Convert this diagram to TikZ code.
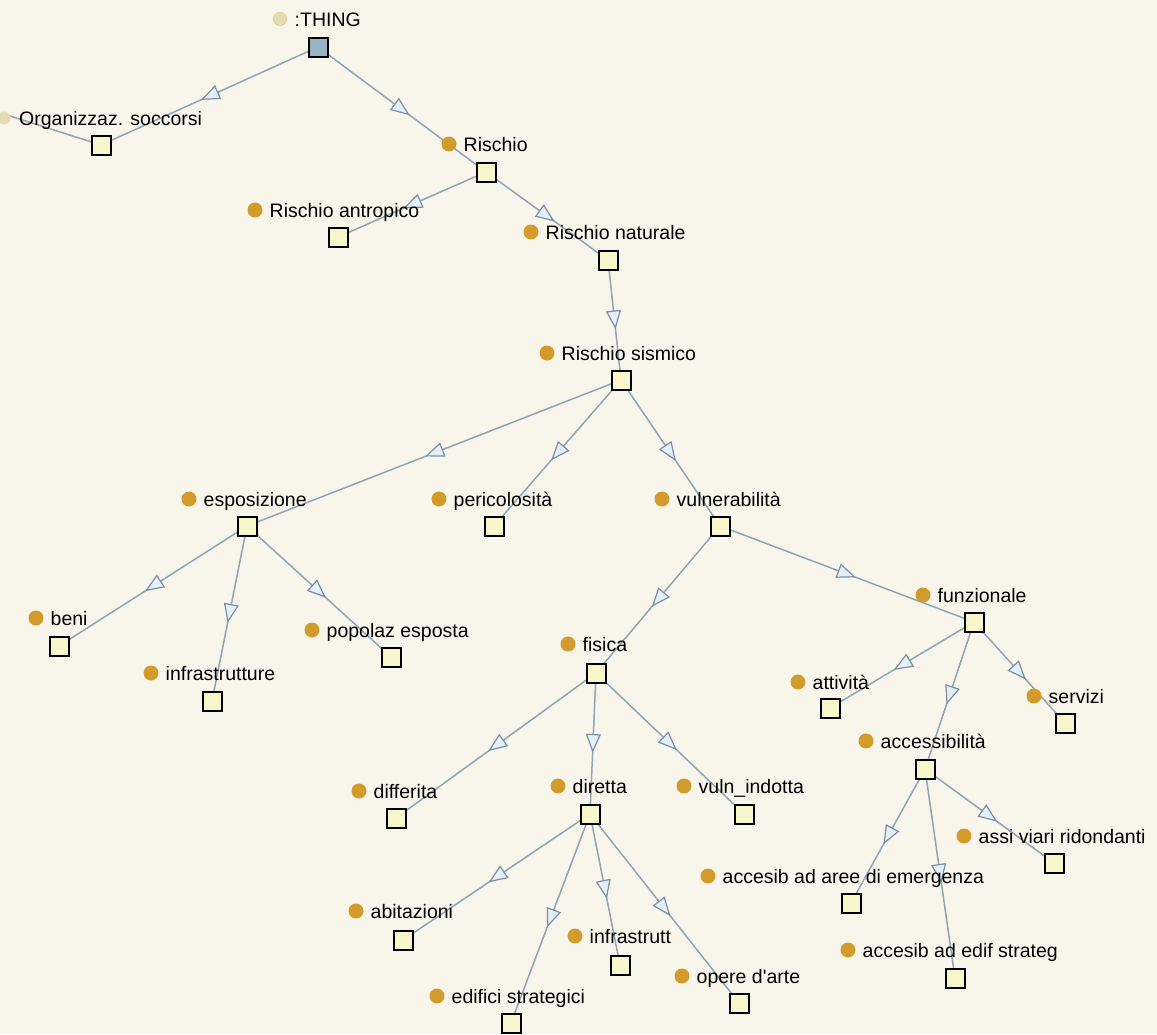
\documentclass[tikz,border=0pt]{standalone}
\usepackage{fontspec}
\setmainfont{Liberation Sans}
\usetikzlibrary{arrows.meta,decorations.markings}
\pgfdeclarelayer{background}
\pgfsetlayers{background,main}
\definecolor{bgc}{HTML}{F8F5EA}
\definecolor{boxc}{HTML}{F8F7CC}
\definecolor{thingc}{HTML}{98B2C6}
\definecolor{dotc}{HTML}{D39B2C}
\definecolor{paledot}{HTML}{E6DCB4}
\definecolor{edgec}{HTML}{90A4B8}
\definecolor{arrowc}{HTML}{7890A8}
\definecolor{arrf}{HTML}{E6EFF8}
\tikzset{
  cbox/.style={draw=black, fill=boxc, line width=2pt, minimum size=19pt, inner sep=0pt},
  dot/.style={circle, fill=dotc, minimum size=15pt, inner sep=0pt},
  lbl/.style={inner sep=0pt, text=black, font=\fontsize{19.5}{22}\selectfont},
  isa/.style={draw=edgec, line width=1.5pt, postaction={decorate},
    decoration={markings, mark=at position 0.5 with {\arrow[xshift=9.5pt,draw=arrowc,line width=1.2pt]{Triangle[length=19pt,width=15pt,fill=arrf]}}}},
  plainedge/.style={draw=edgec, line width=1.5pt}
}
\newcommand\mkclass[6]{%
  \node[dot] (#1-d) at (#4,#5) {};
  \node[lbl, anchor=base west, xshift=14.5pt, yshift=-7.5pt] (#1-t) at (#4,#5) {#6};
  \node[cbox] (#1) at (#2,#3) {};
}
\begin{document}
\begin{tikzpicture}[x=1pt,y=-1pt]
\useasboundingbox (0,0) rectangle (1157,1034);
\clip (0,0) rectangle (1157,1034);
% top node
\node[circle, fill=paledot, draw=paledot!80!dotc, line width=1pt, minimum size=13pt, inner sep=0pt] (thing-d) at (280,19) {};
\node[lbl, anchor=base west, xshift=14.5pt, yshift=-7.5pt] (thing-t) at (280,19) {:THING};
\node[cbox, fill=thingc] (thing) at (318,47) {};
% Organizzaz. soccorsi (dot partly outside)
\node[circle, fill=paledot, minimum size=13pt, inner sep=0pt] (org-d) at (4,118) {};
\node[lbl, anchor=base west, xshift=15pt, yshift=-7.5pt] (org-t) at (4,118) {Organizzaz. soccorsi};
\node[cbox] (org) at (101,145) {};
\coordinate (offl) at (10,116);
\mkclass{ris}{486}{172}{449}{144}{Rischio}
\mkclass{rant}{338}{237}{255}{210}{Rischio antropico}
\mkclass{rnat}{608}{260}{531}{232}{Rischio naturale}
\mkclass{rsis}{621}{380}{547}{353}{Rischio sismico}
\mkclass{espo}{247}{526}{189}{499}{esposizione}
\mkclass{peri}{494}{526}{439}{499}{pericolosità}
\mkclass{vuln}{720}{526}{662}{499}{vulnerabilità}
\mkclass{beni}{59}{646}{36}{618}{beni}
\mkclass{infra}{212}{701}{151}{673}{infrastrutture}
\mkclass{popo}{391}{657}{312}{630}{popolaz esposta}
\mkclass{fis}{596}{673}{568}{644}{fisica}
\mkclass{funz}{974}{622}{923}{595}{funzionale}
\mkclass{att}{830}{708}{798}{682}{attività}
\mkclass{serv}{1065}{723}{1034}{696}{servizi}
\mkclass{acc}{925}{769}{866}{741}{accessibilità}
\mkclass{diff}{396}{818}{359}{791}{differita}
\mkclass{dir}{590}{814}{558}{786}{diretta}
\mkclass{vind}{744}{814}{684}{786}{vuln\_indotta}
\mkclass{abit}{403}{940}{356}{911}{abitazioni}
\mkclass{edif}{511}{1023}{437}{996}{edifici strategici}
\mkclass{infs}{620}{965}{575}{936}{infrastrutt}
\mkclass{oper}{739}{1003}{682}{976}{opere d\textquotesingle arte}
\mkclass{aare}{851}{903}{708}{876}{accesib ad aree di emergenza}
\mkclass{aedi}{955}{978}{848}{950}{accesib ad edif strateg}
\mkclass{assi}{1054}{863}{964}{836}{assi viari ridondanti}
\begin{pgfonlayer}{background}
\clip (0,0) rectangle (1157,1034);
\fill[bgc] (0,0) rectangle (1157,1034);
\path[plainedge] (org.center) -- (offl);
\foreach \a/\b in {thing/org, thing/ris, ris/rant, ris/rnat, rnat/rsis,
  rsis/espo, rsis/peri, rsis/vuln, espo/beni, espo/infra, espo/popo,
  vuln/fis, vuln/funz, funz/att, funz/acc, funz/serv,
  fis/diff, fis/dir, fis/vind, dir/abit, dir/edif, dir/infs, dir/oper,
  acc/aare, acc/aedi, acc/assi}
  \path[isa] (\a.center) -- (\b.center);
\end{pgfonlayer}
\end{tikzpicture}
\end{document}
